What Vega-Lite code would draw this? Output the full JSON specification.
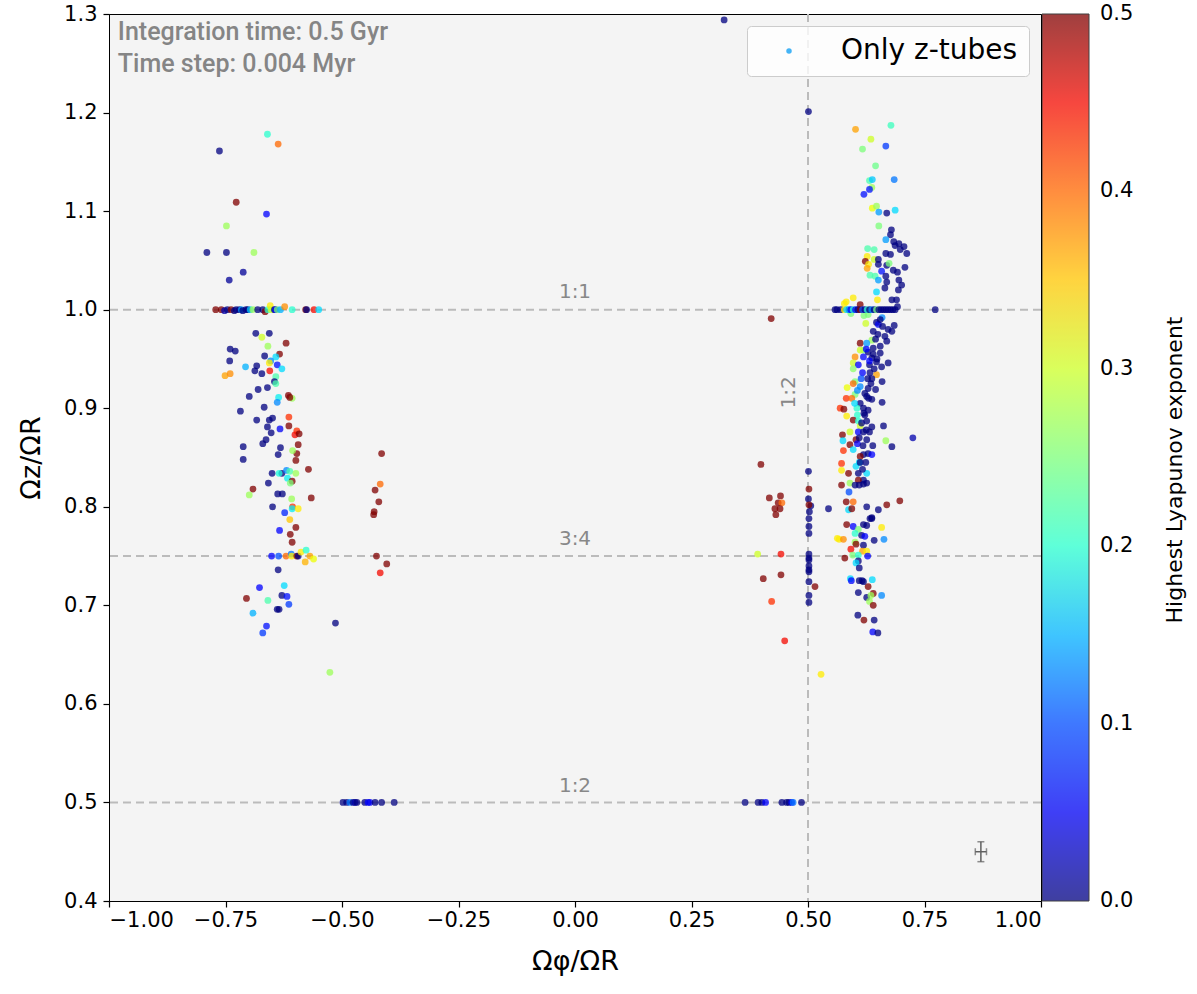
{
  "$schema": "https://vega.github.io/schema/vega-lite/v6.json",
  "width": 932,
  "height": 887,
  "autosize": {"type": "none"},
  "padding": {"left": 109, "top": 14, "right": 156, "bottom": 93},
  "background": "white",
  "config": {
    "view": {"fill": "#f4f4f4", "stroke": "black", "strokeWidth": 1},
    "axis": {"grid": false, "labelFont": "DejaVu Sans", "labelFontSize": 21, "labelColor": "black", "tickColor": "black", "domainColor": "black", "tickSize": 6, "tickWidth": 1.2, "titleFont": "DejaVu Sans", "titleFontSize": 27, "titleFontWeight": "normal", "titleColor": "black"},
    "legend": {"labelFont": "DejaVu Sans", "titleFont": "DejaVu Sans"}
  },
  "datasets": {
    "pts": [
      {"x":-0.660,"y":1.178,"c":0.20},{"x":-0.637,"y":1.168,"c":0.40},{"x":-0.763,"y":1.161,"c":0},{"x":-0.727,"y":1.109,"c":0.5},{"x":-0.662,"y":1.097,"c":0.06},{"x":-0.748,"y":1.085,"c":0.27},{"x":-0.790,"y":1.058,"c":0},{"x":-0.748,"y":1.058,"c":0},{"x":-0.689,"y":1.058,"c":0.27},{"x":-0.712,"y":1.038,"c":0.01},{"x":-0.742,"y":1.030,"c":0.01},
      {"x":-0.771,"y":1.0,"c":0.5},{"x":-0.759,"y":1.0,"c":0.5},{"x":-0.752,"y":0.999,"c":0.02},{"x":-0.746,"y":1.0,"c":0},{"x":-0.738,"y":1.0,"c":0.5},{"x":-0.731,"y":0.999,"c":0},{"x":-0.727,"y":1.0,"c":0},{"x":-0.720,"y":1.0,"c":0},{"x":-0.716,"y":1.0,"c":0.14},{"x":-0.713,"y":0.999,"c":0},{"x":-0.706,"y":1.0,"c":0},{"x":-0.702,"y":1.0,"c":0},{"x":-0.697,"y":1.0,"c":0.16},{"x":-0.691,"y":1.0,"c":0.27},{"x":-0.681,"y":1.0,"c":0},{"x":-0.670,"y":1.0,"c":0},{"x":-0.665,"y":0.998,"c":0.5},{"x":-0.659,"y":1.0,"c":0.2},{"x":-0.654,"y":1.004,"c":0.33},{"x":-0.652,"y":1.0,"c":0.3},{"x":-0.645,"y":1.0,"c":0},{"x":-0.643,"y":1.0,"c":0.06},{"x":-0.639,"y":1.0,"c":0.25},{"x":-0.632,"y":1.0,"c":0.15},{"x":-0.623,"y":1.003,"c":0.38},{"x":-0.607,"y":1.0,"c":0.2},{"x":-0.578,"y":1.0,"c":0.5},{"x":-0.576,"y":1.0,"c":0},{"x":-0.560,"y":1.0,"c":0.45},{"x":-0.550,"y":1.0,"c":0.17},
      {"x":-0.685,"y":0.976,"c":0},{"x":-0.656,"y":0.976,"c":0},{"x":-0.672,"y":0.972,"c":0.3},{"x":-0.659,"y":0.963,"c":0.27},{"x":-0.620,"y":0.966,"c":0.5},{"x":-0.740,"y":0.960,"c":0},{"x":-0.729,"y":0.958,"c":0},{"x":-0.741,"y":0.948,"c":0},{"x":-0.666,"y":0.953,"c":0},{"x":-0.634,"y":0.955,"c":0.5},{"x":-0.642,"y":0.952,"c":0.17},{"x":-0.653,"y":0.948,"c":0.13},{"x":-0.656,"y":0.946,"c":0.33},{"x":-0.639,"y":0.944,"c":0.07},{"x":-0.629,"y":0.940,"c":0.17},{"x":-0.707,"y":0.942,"c":0.15},{"x":-0.683,"y":0.943,"c":0},{"x":-0.687,"y":0.938,"c":0},{"x":-0.672,"y":0.935,"c":0},{"x":-0.655,"y":0.938,"c":0.45},{"x":-0.751,"y":0.933,"c":0.37},{"x":-0.740,"y":0.935,"c":0.38},{"x":-0.642,"y":0.932,"c":0.22},{"x":-0.645,"y":0.927,"c":0},{"x":-0.642,"y":0.925,"c":0.22},{"x":-0.680,"y":0.919,"c":0},{"x":-0.660,"y":0.921,"c":0},{"x":-0.636,"y":0.911,"c":0.18},{"x":-0.639,"y":0.906,"c":0.13},{"x":-0.615,"y":0.913,"c":0.5},{"x":-0.607,"y":0.910,"c":0.27},{"x":-0.612,"y":0.911,"c":0.5},{"x":-0.699,"y":0.912,"c":0},{"x":-0.667,"y":0.901,"c":0},{"x":-0.718,"y":0.897,"c":0},{"x":-0.683,"y":0.888,"c":0},{"x":-0.656,"y":0.888,"c":0},{"x":-0.649,"y":0.890,"c":0},{"x":-0.660,"y":0.881,"c":0},{"x":-0.652,"y":0.875,"c":0},{"x":-0.633,"y":0.879,"c":0.05},{"x":-0.614,"y":0.891,"c":0.43},{"x":-0.614,"y":0.882,"c":0.5},{"x":-0.597,"y":0.877,"c":0.43},{"x":-0.601,"y":0.873,"c":0.45},{"x":-0.592,"y":0.874,"c":0.5},{"x":-0.594,"y":0.863,"c":0.5},{"x":-0.597,"y":0.854,"c":0.5},{"x":-0.599,"y":0.847,"c":0.5},{"x":-0.663,"y":0.868,"c":0},{"x":-0.670,"y":0.864,"c":0},{"x":-0.712,"y":0.861,"c":0},{"x":-0.632,"y":0.860,"c":0},{"x":-0.637,"y":0.853,"c":0},{"x":-0.606,"y":0.857,"c":0.27},{"x":-0.712,"y":0.848,"c":0},{"x":-0.650,"y":0.834,"c":0},{"x":-0.629,"y":0.834,"c":0},{"x":-0.635,"y":0.834,"c":0.19},{"x":-0.619,"y":0.837,"c":0.13},{"x":-0.612,"y":0.836,"c":0.22},{"x":-0.599,"y":0.834,"c":0.27},{"x":-0.617,"y":0.829,"c":0.18},{"x":-0.607,"y":0.826,"c":0.5},{"x":-0.611,"y":0.824,"c":0.25},{"x":-0.658,"y":0.824,"c":0},{"x":-0.572,"y":0.838,"c":0.5},{"x":-0.691,"y":0.818,"c":0.5},{"x":-0.699,"y":0.812,"c":0.27},{"x":-0.638,"y":0.813,"c":0},{"x":-0.628,"y":0.813,"c":0},{"x":-0.608,"y":0.808,"c":0.27},{"x":-0.566,"y":0.809,"c":0.5},
      {"x":-0.649,"y":0.800,"c":0},{"x":-0.606,"y":0.800,"c":0.43},{"x":-0.607,"y":0.798,"c":0.18},{"x":-0.594,"y":0.798,"c":0.33},{"x":-0.623,"y":0.794,"c":0.08},{"x":-0.612,"y":0.787,"c":0.35},{"x":-0.599,"y":0.779,"c":0.5},{"x":-0.634,"y":0.776,"c":0.06},{"x":-0.611,"y":0.772,"c":0.5},{"x":-0.607,"y":0.764,"c":0.5},
      {"x":-0.651,"y":0.750,"c":0.06},{"x":-0.636,"y":0.750,"c":0.1},{"x":-0.620,"y":0.750,"c":0.4},{"x":-0.609,"y":0.752,"c":0.12},{"x":-0.608,"y":0.750,"c":0.33},{"x":-0.597,"y":0.750,"c":0.5},{"x":-0.594,"y":0.750,"c":0},{"x":-0.588,"y":0.754,"c":0.33},{"x":-0.577,"y":0.756,"c":0.2},{"x":-0.569,"y":0.750,"c":0.37},{"x":-0.579,"y":0.744,"c":0.36},{"x":-0.561,"y":0.747,"c":0.32},
      {"x":-0.637,"y":0.736,"c":0},{"x":-0.677,"y":0.718,"c":0.06},{"x":-0.624,"y":0.720,"c":0.17},{"x":-0.629,"y":0.710,"c":0},{"x":-0.618,"y":0.709,"c":0.07},{"x":-0.705,"y":0.707,"c":0.5},{"x":-0.659,"y":0.705,"c":0.22},{"x":-0.614,"y":0.701,"c":0.09},{"x":-0.639,"y":0.696,"c":0},{"x":-0.635,"y":0.696,"c":0},{"x":-0.691,"y":0.692,"c":0.15},{"x":-0.662,"y":0.679,"c":0.07},{"x":-0.670,"y":0.672,"c":0.09},{"x":-0.514,"y":0.682,"c":0},{"x":-0.526,"y":0.632,"c":0.27},
      {"x":-0.415,"y":0.854,"c":0.5},{"x":-0.418,"y":0.823,"c":0.4},{"x":-0.429,"y":0.817,"c":0.5},{"x":-0.421,"y":0.805,"c":0.5},{"x":-0.431,"y":0.795,"c":0.5},{"x":-0.432,"y":0.792,"c":0.5},{"x":-0.426,"y":0.750,"c":0.5},{"x":-0.404,"y":0.742,"c":0.5},{"x":-0.418,"y":0.733,"c":0.45},
      {"x":-0.498,"y":0.5,"c":0},{"x":-0.490,"y":0.5,"c":0},{"x":-0.483,"y":0.5,"c":0.12},{"x":-0.476,"y":0.5,"c":0},{"x":-0.472,"y":0.5,"c":0.02},{"x":-0.468,"y":0.5,"c":0},{"x":-0.451,"y":0.5,"c":0},{"x":-0.444,"y":0.5,"c":0.06},{"x":-0.440,"y":0.5,"c":0.05},{"x":-0.429,"y":0.5,"c":0},{"x":-0.415,"y":0.5,"c":0},{"x":-0.388,"y":0.5,"c":0},
      {"x":0.320,"y":1.294,"c":0},{"x":0.501,"y":1.201,"c":0},{"x":0.773,"y":1.0,"c":0},{"x":0.421,"y":0.991,"c":0.5},
      {"x":0.602,"y":1.183,"c":0.37},{"x":0.678,"y":1.187,"c":0.21},{"x":0.635,"y":1.173,"c":0.3},{"x":0.617,"y":1.163,"c":0.25},{"x":0.667,"y":1.166,"c":0.09},{"x":0.645,"y":1.146,"c":0.24},{"x":0.632,"y":1.131,"c":0.22},{"x":0.638,"y":1.132,"c":0.16},{"x":0.685,"y":1.132,"c":0.12},{"x":0.637,"y":1.124,"c":0.27},{"x":0.632,"y":1.122,"c":0.07},{"x":0.620,"y":1.117,"c":0.07},{"x":0.638,"y":1.103,"c":0.32},{"x":0.647,"y":1.105,"c":0.27},{"x":0.652,"y":1.099,"c":0.14},{"x":0.669,"y":1.098,"c":0},{"x":0.687,"y":1.101,"c":0.17},{"x":0.652,"y":1.085,"c":0.25},{"x":0.679,"y":1.081,"c":0},{"x":0.677,"y":1.076,"c":0},{"x":0.667,"y":1.071,"c":0.14},{"x":0.684,"y":1.069,"c":0},{"x":0.695,"y":1.067,"c":0},{"x":0.687,"y":1.065,"c":0},{"x":0.706,"y":1.064,"c":0},{"x":0.698,"y":1.061,"c":0},{"x":0.712,"y":1.057,"c":0},{"x":0.628,"y":1.062,"c":0.22},{"x":0.642,"y":1.061,"c":0.22},{"x":0.667,"y":1.057,"c":0},{"x":0.677,"y":1.056,"c":0},{"x":0.627,"y":1.054,"c":0.33},{"x":0.642,"y":1.051,"c":0.3},{"x":0.651,"y":1.051,"c":0},{"x":0.623,"y":1.049,"c":0.5},{"x":0.630,"y":1.046,"c":0.33},{"x":0.627,"y":1.042,"c":0.37},{"x":0.651,"y":1.046,"c":0},{"x":0.669,"y":1.045,"c":0},{"x":0.674,"y":1.047,"c":0.25},{"x":0.708,"y":1.043,"c":0},{"x":0.683,"y":1.040,"c":0},{"x":0.692,"y":1.038,"c":0},{"x":0.658,"y":1.039,"c":0.07},{"x":0.633,"y":1.035,"c":0.22},{"x":0.644,"y":1.034,"c":0.22},{"x":0.651,"y":1.030,"c":0.14},{"x":0.667,"y":1.034,"c":0},{"x":0.669,"y":1.028,"c":0},{"x":0.695,"y":1.030,"c":0},{"x":0.701,"y":1.025,"c":0},{"x":0.665,"y":1.022,"c":0},{"x":0.694,"y":1.020,"c":0},{"x":0.647,"y":1.018,"c":0.17},{"x":0.649,"y":1.010,"c":0.33},{"x":0.597,"y":1.012,"c":0.33},{"x":0.582,"y":1.008,"c":0.33},{"x":0.578,"y":1.006,"c":0.33},{"x":0.612,"y":1.005,"c":0.5},{"x":0.680,"y":1.010,"c":0},{"x":0.690,"y":1.010,"c":0},{"x":0.692,"y":1.003,"c":0},{"x":0.592,"y":0.996,"c":0.25},{"x":0.620,"y":0.994,"c":0.25},{"x":0.629,"y":0.995,"c":0.25},{"x":0.659,"y":0.992,"c":0.13},
      {"x":0.558,"y":1.0,"c":0},{"x":0.562,"y":1.0,"c":0},{"x":0.570,"y":1.0,"c":0},{"x":0.578,"y":1.0,"c":0.33},{"x":0.583,"y":1.0,"c":0.17},{"x":0.588,"y":1.0,"c":0.13},{"x":0.592,"y":1.0,"c":0.06},{"x":0.597,"y":1.0,"c":0.2},{"x":0.602,"y":1.0,"c":0.06},{"x":0.607,"y":1.0,"c":0},{"x":0.612,"y":1.0,"c":0.5},{"x":0.617,"y":1.0,"c":0.1},{"x":0.622,"y":1.0,"c":0},{"x":0.627,"y":1.0,"c":0.2},{"x":0.632,"y":1.0,"c":0},{"x":0.637,"y":1.0,"c":0.13},{"x":0.642,"y":1.0,"c":0},{"x":0.647,"y":1.0,"c":0.25},{"x":0.652,"y":1.0,"c":0},{"x":0.657,"y":1.0,"c":0},{"x":0.662,"y":1.0,"c":0},{"x":0.667,"y":1.0,"c":0},{"x":0.672,"y":1.0,"c":0},{"x":0.677,"y":1.0,"c":0},{"x":0.682,"y":1.0,"c":0},{"x":0.687,"y":1.0,"c":0},
      {"x":0.624,"y":0.986,"c":0.3},{"x":0.647,"y":0.987,"c":0},{"x":0.685,"y":0.984,"c":0},{"x":0.672,"y":0.980,"c":0},{"x":0.640,"y":0.978,"c":0},{"x":0.651,"y":0.985,"c":0.05},{"x":0.637,"y":0.969,"c":0.27},{"x":0.612,"y":0.966,"c":0.5},{"x":0.626,"y":0.966,"c":0.14},{"x":0.665,"y":0.973,"c":0},{"x":0.680,"y":0.978,"c":0},{"x":0.619,"y":0.959,"c":0.25},{"x":0.612,"y":0.959,"c":0.3},{"x":0.629,"y":0.957,"c":0},{"x":0.640,"y":0.961,"c":0},{"x":0.655,"y":0.956,"c":0},{"x":0.669,"y":0.968,"c":0},{"x":0.619,"y":0.952,"c":0.06},{"x":0.601,"y":0.952,"c":0.38},{"x":0.637,"y":0.951,"c":0},{"x":0.647,"y":0.947,"c":0},{"x":0.597,"y":0.946,"c":0.3},{"x":0.608,"y":0.944,"c":0.06},{"x":0.672,"y":0.946,"c":0},{"x":0.658,"y":0.942,"c":0},{"x":0.597,"y":0.940,"c":0.26},{"x":0.617,"y":0.936,"c":0.06},{"x":0.647,"y":0.934,"c":0.37},{"x":0.633,"y":0.936,"c":0},{"x":0.637,"y":0.930,"c":0},{"x":0.659,"y":0.927,"c":0},{"x":0.601,"y":0.927,"c":0.25},{"x":0.597,"y":0.925,"c":0.4},{"x":0.584,"y":0.921,"c":0.32},{"x":0.612,"y":0.922,"c":0.13},{"x":0.629,"y":0.920,"c":0},{"x":0.645,"y":0.919,"c":0},{"x":0.601,"y":0.914,"c":0.25},{"x":0.582,"y":0.910,"c":0.43},{"x":0.594,"y":0.910,"c":0.4},{"x":0.626,"y":0.912,"c":0},{"x":0.637,"y":0.909,"c":0},{"x":0.659,"y":0.906,"c":0},{"x":0.612,"y":0.905,"c":0},{"x":0.569,"y":0.900,"c":0.43},{"x":0.577,"y":0.899,"c":0.5},{"x":0.605,"y":0.900,"c":0.2},{"x":0.619,"y":0.900,"c":0},{"x":0.629,"y":0.898,"c":0},{"x":0.583,"y":0.892,"c":0.33},{"x":0.606,"y":0.893,"c":0.2},{"x":0.622,"y":0.893,"c":0},{"x":0.597,"y":0.888,"c":0.5},{"x":0.608,"y":0.887,"c":0.2},{"x":0.626,"y":0.887,"c":0},{"x":0.662,"y":0.882,"c":0},{"x":0.612,"y":0.882,"c":0.3},{"x":0.637,"y":0.881,"c":0},{"x":0.590,"y":0.876,"c":0.3},{"x":0.608,"y":0.876,"c":0.06},{"x":0.619,"y":0.876,"c":0},{"x":0.632,"y":0.876,"c":0},{"x":0.574,"y":0.873,"c":0.5},{"x":0.575,"y":0.867,"c":0.17},{"x":0.590,"y":0.863,"c":0.5},{"x":0.603,"y":0.868,"c":0.5},{"x":0.606,"y":0.864,"c":0.06},{"x":0.626,"y":0.868,"c":0},{"x":0.639,"y":0.862,"c":0},{"x":0.667,"y":0.867,"c":0.27},{"x":0.680,"y":0.861,"c":0},{"x":0.725,"y":0.870,"c":0.02},{"x":0.597,"y":0.858,"c":0.17},{"x":0.576,"y":0.857,"c":0.43},{"x":0.619,"y":0.853,"c":0},{"x":0.629,"y":0.854,"c":0},{"x":0.637,"y":0.853,"c":0.06},{"x":0.612,"y":0.851,"c":0.5},{"x":0.624,"y":0.845,"c":0},{"x":0.610,"y":0.845,"c":0.17},{"x":0.572,"y":0.844,"c":0.43},{"x":0.603,"y":0.841,"c":0.17},{"x":0.587,"y":0.834,"c":0.5},{"x":0.572,"y":0.837,"c":0.33},{"x":0.608,"y":0.834,"c":0},{"x":0.626,"y":0.834,"c":0.17},{"x":0.619,"y":0.827,"c":0},{"x":0.608,"y":0.827,"c":0.5},{"x":0.590,"y":0.824,"c":0.27},{"x":0.572,"y":0.822,"c":0.5},{"x":0.601,"y":0.822,"c":0},{"x":0.588,"y":0.815,"c":0.1},
      {"x":0.655,"y":0.990,"c":0},{"x":0.660,"y":0.983,"c":0},{"x":0.650,"y":0.975,"c":0},{"x":0.645,"y":0.970,"c":0},{"x":0.655,"y":0.963,"c":0},{"x":0.640,"y":0.955,"c":0},{"x":0.648,"y":0.950,"c":0},{"x":0.632,"y":0.944,"c":0},{"x":0.642,"y":0.940,"c":0},{"x":0.628,"y":0.930,"c":0},{"x":0.635,"y":0.925,"c":0},{"x":0.622,"y":0.915,"c":0},{"x":0.630,"y":0.910,"c":0},{"x":0.620,"y":0.895,"c":0},{"x":0.615,"y":0.885,"c":0},{"x":0.625,"y":0.878,"c":0},{"x":0.610,"y":0.870,"c":0},{"x":0.618,"y":0.862,"c":0},{"x":0.612,"y":0.845,"c":0},{"x":0.617,"y":0.838,"c":0},{"x":0.632,"y":0.948,"c":0.06},{"x":0.625,"y":0.960,"c":0.06},{"x":0.614,"y":0.930,"c":0.1},{"x":0.606,"y":0.918,"c":0.13},{"x":0.600,"y":0.905,"c":0.17},
      {"x":0.399,"y":0.843,"c":0.5},{"x":0.501,"y":0.836,"c":0},{"x":0.502,"y":0.818,"c":0.5},{"x":0.417,"y":0.809,"c":0.5},{"x":0.441,"y":0.811,"c":0.5},{"x":0.436,"y":0.804,"c":0.5},{"x":0.444,"y":0.804,"c":0.4},{"x":0.429,"y":0.798,"c":0.5},{"x":0.440,"y":0.798,"c":0.5},{"x":0.431,"y":0.792,"c":0.5},{"x":0.501,"y":0.808,"c":0},{"x":0.506,"y":0.801,"c":0},{"x":0.503,"y":0.795,"c":0},{"x":0.544,"y":0.798,"c":0},{"x":0.582,"y":0.805,"c":0.5},{"x":0.597,"y":0.805,"c":0.4},{"x":0.587,"y":0.797,"c":0.17},{"x":0.594,"y":0.798,"c":0.5},{"x":0.626,"y":0.800,"c":0},{"x":0.651,"y":0.797,"c":0},{"x":0.669,"y":0.802,"c":0.5},{"x":0.697,"y":0.806,"c":0.5},{"x":0.637,"y":0.789,"c":0},{"x":0.610,"y":0.822,"c":0},{"x":0.619,"y":0.823,"c":0},{"x":0.626,"y":0.824,"c":0},
      {"x":0.502,"y":0.802,"c":0.5},{"x":0.502,"y":0.788,"c":0},{"x":0.502,"y":0.780,"c":0},{"x":0.502,"y":0.773,"c":0},{"x":0.583,"y":0.782,"c":0.5},{"x":0.597,"y":0.780,"c":0.06},{"x":0.619,"y":0.782,"c":0},{"x":0.626,"y":0.781,"c":0},{"x":0.637,"y":0.788,"c":0},{"x":0.633,"y":0.788,"c":0},{"x":0.658,"y":0.779,"c":0.33},{"x":0.608,"y":0.777,"c":0.25},{"x":0.601,"y":0.773,"c":0.2},{"x":0.615,"y":0.771,"c":0},{"x":0.622,"y":0.770,"c":0.06},{"x":0.642,"y":0.766,"c":0},{"x":0.663,"y":0.767,"c":0.13},{"x":0.563,"y":0.768,"c":0.33},{"x":0.567,"y":0.767,"c":0.33},{"x":0.576,"y":0.767,"c":0.38},{"x":0.601,"y":0.764,"c":0.27},{"x":0.619,"y":0.761,"c":0},{"x":0.603,"y":0.762,"c":0.5},{"x":0.592,"y":0.757,"c":0.45},{"x":0.617,"y":0.755,"c":0.37},{"x":0.626,"y":0.755,"c":0.33},{"x":0.596,"y":0.751,"c":0.25},{"x":0.608,"y":0.751,"c":0.2},{"x":0.628,"y":0.750,"c":0.06},{"x":0.579,"y":0.748,"c":0.5},{"x":0.608,"y":0.745,"c":0},{"x":0.603,"y":0.743,"c":0.17},{"x":0.610,"y":0.738,"c":0},
      {"x":0.392,"y":0.752,"c":0.3},{"x":0.442,"y":0.752,"c":0.45},{"x":0.502,"y":0.752,"c":0},{"x":0.502,"y":0.748,"c":0},{"x":0.502,"y":0.746,"c":0},{"x":0.502,"y":0.740,"c":0},{"x":0.502,"y":0.736,"c":0},{"x":0.502,"y":0.734,"c":0},{"x":0.502,"y":0.724,"c":0},{"x":0.502,"y":0.710,"c":0},{"x":0.502,"y":0.703,"c":0},{"x":0.515,"y":0.719,"c":0.5},{"x":0.404,"y":0.727,"c":0.5},{"x":0.442,"y":0.731,"c":0.5},{"x":0.422,"y":0.704,"c":0.43},{"x":0.450,"y":0.664,"c":0.45},{"x":0.528,"y":0.630,"c":0.33},
      {"x":0.591,"y":0.727,"c":0.17},{"x":0.593,"y":0.725,"c":0.06},{"x":0.610,"y":0.725,"c":0},{"x":0.616,"y":0.725,"c":0},{"x":0.638,"y":0.726,"c":0.17},{"x":0.629,"y":0.719,"c":0.5},{"x":0.619,"y":0.724,"c":0},{"x":0.608,"y":0.713,"c":0},{"x":0.626,"y":0.708,"c":0},{"x":0.640,"y":0.712,"c":0.5},{"x":0.635,"y":0.710,"c":0.27},{"x":0.632,"y":0.704,"c":0.27},{"x":0.658,"y":0.710,"c":0.13},{"x":0.640,"y":0.700,"c":0.5},{"x":0.607,"y":0.690,"c":0},{"x":0.620,"y":0.685,"c":0.5},{"x":0.642,"y":0.685,"c":0},{"x":0.639,"y":0.673,"c":0.06},{"x":0.650,"y":0.672,"c":0},
      {"x":0.365,"y":0.5,"c":0},{"x":0.393,"y":0.5,"c":0},{"x":0.401,"y":0.5,"c":0},{"x":0.409,"y":0.5,"c":0.06},{"x":0.444,"y":0.5,"c":0},{"x":0.454,"y":0.5,"c":0},{"x":0.459,"y":0.5,"c":0},{"x":0.465,"y":0.5,"c":0.06},{"x":0.468,"y":0.5,"c":0.12},{"x":0.486,"y":0.5,"c":0}
    ],
    "hlines": [{"y": 1.0}, {"y": 0.75}, {"y": 0.5}],
    "ratios": [{"x": 0, "y": 1.018, "t": "1:1"}, {"x": 0, "y": 0.767, "t": "3:4"}, {"x": 0, "y": 0.517, "t": "1:2"}],
    "vlabel": [{"x": 0.459, "y": 0.916, "t": "1:2"}],
    "notes": [{"x": -0.981, "y": 1.294, "t": "Integration time: 0.5 Gyr"}, {"x": -0.981, "y": 1.261, "t": "Time step: 0.004 Myr"}],
    "err": [{"x": 0.871, "y": 0.45, "xlo": 0.859, "xhi": 0.883, "ylo": 0.4399, "yhi": 0.4601}]
  },
  "layer": [
    {
      "data": {"name": "hlines"},
      "mark": {"type": "rule", "color": "#bbbbbb", "strokeWidth": 2, "strokeDash": [8, 5]},
      "encoding": {"y": {"field": "y", "type": "quantitative", "scale": {"domain": [0.4, 1.3], "nice": false, "zero": false}}}
    },
    {
      "data": {"values": [{"x": 0.5}]},
      "mark": {"type": "rule", "color": "#bbbbbb", "strokeWidth": 2, "strokeDash": [8, 5]},
      "encoding": {"x": {"field": "x", "type": "quantitative", "scale": {"domain": [-1, 1], "nice": false, "zero": false}}}
    },
    {
      "data": {"name": "ratios"},
      "mark": {"type": "text", "color": "#888888", "fontSize": 20, "font": "DejaVu Sans", "align": "center", "baseline": "middle"},
      "encoding": {
        "x": {"field": "x", "type": "quantitative"},
        "y": {"field": "y", "type": "quantitative"},
        "text": {"field": "t"}
      }
    },
    {
      "data": {"name": "vlabel"},
      "mark": {"type": "text", "color": "#888888", "fontSize": 20, "font": "DejaVu Sans", "align": "center", "baseline": "middle", "angle": 270},
      "encoding": {
        "x": {"field": "x", "type": "quantitative"},
        "y": {"field": "y", "type": "quantitative"},
        "text": {"field": "t"}
      }
    },
    {
      "data": {"name": "notes"},
      "mark": {"type": "text", "color": "#858585", "fontSize": 25, "font": "Roboto", "fontWeight": 500, "align": "left", "baseline": "top"},
      "encoding": {
        "x": {"field": "x", "type": "quantitative"},
        "y": {"field": "y", "type": "quantitative"},
        "text": {"field": "t"}
      }
    },
    {
      "data": {"name": "pts"},
      "mark": {"type": "point", "filled": true, "size": 46, "opacity": 0.75, "strokeWidth": 0},
      "encoding": {
        "x": {"field": "x", "type": "quantitative", "scale": {"domain": [-1, 1], "nice": false, "zero": false},
              "axis": {"values": [-1, -0.75, -0.5, -0.25, 0, 0.25, 0.5, 0.75, 1], "format": ".2f", "title": "Ωφ/ΩR", "titlePadding": 18, "labelPadding": 2}},
        "y": {"field": "y", "type": "quantitative", "scale": {"domain": [0.4, 1.3], "nice": false, "zero": false},
              "axis": {"values": [0.4, 0.5, 0.6, 0.7, 0.8, 0.9, 1.0, 1.1, 1.2, 1.3], "format": ".1f", "title": "Ωz/ΩR", "titlePadding": 18, "labelPadding": 6}},
        "color": {
          "field": "c", "type": "quantitative",
          "scale": {
            "domain": [0, 0.055, 0.0625, 0.17, 0.175, 0.1875, 0.32, 0.325, 0.33, 0.445, 0.455, 0.5],
            "range": ["#000080", "#0000ff", "#0000ff", "#00dbff", "#00e5f7", "#15ffe2", "#eeff04", "#f7f500", "#ffec00", "#ff1300", "#e80000", "#800000"],
            "interpolate": "rgb"
          },
          "legend": {
            "type": "gradient", "direction": "vertical", "orient": "right", "offset": 1,
            "gradientLength": 887, "gradientThickness": 47, "gradientOpacity": 0.75,
            "gradientStrokeColor": "black", "gradientStrokeWidth": 1,
            "values": [0, 0.1, 0.2, 0.3, 0.4, 0.5], "format": ".1f", "labelOverlap": false,
            "labelFontSize": 21, "labelColor": "black", "labelOffset": 11,
            "title": "Highest Lyapunov exponent", "titleOrient": "right", "titleLimit": 1000,
            "titleFontSize": 22, "titleFontWeight": "normal", "titleColor": "black", "titlePadding": 42,
            "titleAnchor": "middle", "titleBaseline": "middle",
            "encode": {
              "labels": {"update": {"baseline": {"value": "middle"}}},
              "title": {"update": {"angle": {"value": -90}, "dx": {"value": -12}}}
            }
          }
        },
        "shape": {
          "datum": "Only z-tubes", "type": "nominal",
          "scale": {"range": ["circle"]},
          "legend": {
            "title": null, "orient": "top-right", "offset": 12,
            "fillColor": "rgba(255,255,255,0.8)", "strokeColor": "#cccccc", "cornerRadius": 4, "padding": 11,
            "labelFontSize": 28, "labelColor": "black", "labelOffset": 38, "symbolOffset": 17, "labelLimit": 500,
            "symbolSize": 30, "symbolFillColor": "#44b4f6", "symbolStrokeColor": "#44b4f6", "symbolStrokeWidth": 0, "symbolOpacity": 1,
            "encode": {"symbols": {"update": {"fill": {"value": "#44b4f6"}, "opacity": {"value": 1}}}}
          }
        }
      }
    },
    {
      "data": {"name": "err"},
      "mark": {"type": "rule", "color": "#606060", "strokeWidth": 1.5},
      "encoding": {"x": {"field": "xlo", "type": "quantitative"}, "x2": {"field": "xhi"}, "y": {"field": "y", "type": "quantitative"}}
    },
    {
      "data": {"name": "err"},
      "mark": {"type": "rule", "color": "#606060", "strokeWidth": 1.5},
      "encoding": {"x": {"field": "x", "type": "quantitative"}, "y": {"field": "ylo", "type": "quantitative"}, "y2": {"field": "yhi"}}
    },
    {
      "data": {"name": "err"},
      "mark": {"type": "tick", "color": "#606060", "thickness": 1.5, "size": 7, "orient": "horizontal"},
      "encoding": {"x": {"field": "x", "type": "quantitative"}, "y": {"field": "ylo", "type": "quantitative"}}
    },
    {
      "data": {"name": "err"},
      "mark": {"type": "tick", "color": "#606060", "thickness": 1.5, "size": 7, "orient": "horizontal"},
      "encoding": {"x": {"field": "x", "type": "quantitative"}, "y": {"field": "yhi", "type": "quantitative"}}
    },
    {
      "data": {"name": "err"},
      "mark": {"type": "tick", "color": "#606060", "thickness": 1.5, "size": 7, "orient": "vertical"},
      "encoding": {"x": {"field": "xlo", "type": "quantitative"}, "y": {"field": "y", "type": "quantitative"}}
    },
    {
      "data": {"name": "err"},
      "mark": {"type": "tick", "color": "#606060", "thickness": 1.5, "size": 7, "orient": "vertical"},
      "encoding": {"x": {"field": "xhi", "type": "quantitative"}, "y": {"field": "y", "type": "quantitative"}}
    }
  ]
}
